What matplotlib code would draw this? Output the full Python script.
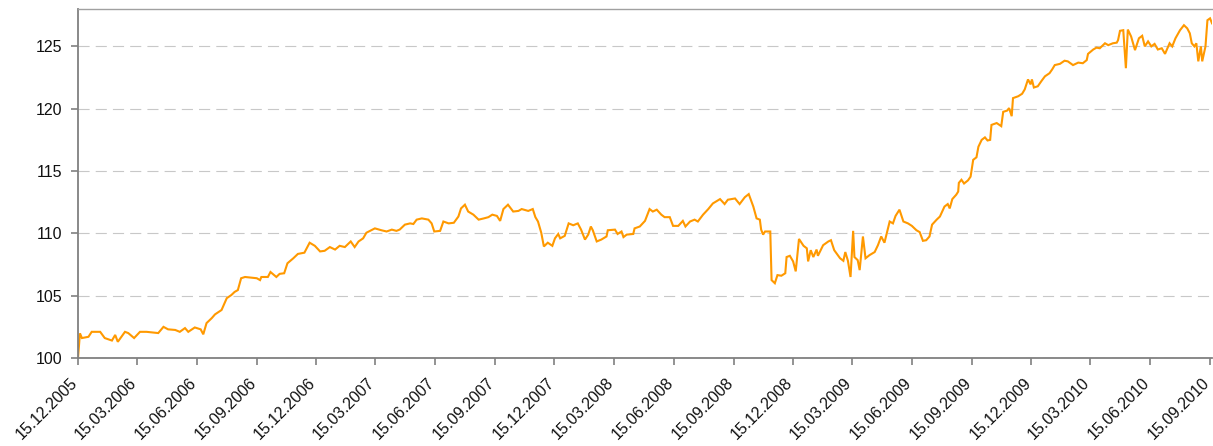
import numpy as np
import pandas as pd
import matplotlib
matplotlib.use("Agg")
import matplotlib.pyplot as plt
import matplotlib.dates as mdates
import matplotlib.transforms as mtransforms

plt.rcParams['font.family'] = ['Liberation Sans', 'DejaVu Sans']

# index level (start = 100)
dates = [
    "2005-12-15", "2005-12-18", "2005-12-21", "2005-12-31", "2006-01-05", "2006-01-18",
    "2006-01-25", "2006-02-05", "2006-02-10", "2006-02-14", "2006-02-25", "2006-03-02",
    "2006-03-11", "2006-03-20", "2006-03-30", "2006-04-17", "2006-04-25", "2006-05-02",
    "2006-05-13", "2006-05-20", "2006-05-28", "2006-06-02", "2006-06-12", "2006-06-21",
    "2006-06-25", "2006-06-30", "2006-07-08", "2006-07-13", "2006-07-23", "2006-07-31",
    "2006-08-07", "2006-08-12", "2006-08-17", "2006-08-22", "2006-08-28", "2006-09-15",
    "2006-09-20", "2006-09-22", "2006-10-02", "2006-10-06", "2006-10-15", "2006-10-20",
    "2006-10-27", "2006-11-01", "2006-11-10", "2006-11-17", "2006-11-27", "2006-12-05",
    "2006-12-13", "2006-12-21", "2006-12-28", "2007-01-05", "2007-01-13", "2007-01-20",
    "2007-01-28", "2007-02-06", "2007-02-12", "2007-02-18", "2007-02-25", "2007-03-02",
    "2007-03-15", "2007-03-25", "2007-04-02", "2007-04-10", "2007-04-17", "2007-04-22",
    "2007-04-30", "2007-05-08", "2007-05-13", "2007-05-18", "2007-05-26", "2007-06-05",
    "2007-06-10", "2007-06-14", "2007-06-23", "2007-06-28", "2007-07-06", "2007-07-14",
    "2007-07-21", "2007-07-25", "2007-07-31", "2007-08-05", "2007-08-13", "2007-08-21",
    "2007-08-29", "2007-09-05", "2007-09-11", "2007-09-18", "2007-09-23", "2007-09-28",
    "2007-10-05", "2007-10-13", "2007-10-21", "2007-10-26", "2007-11-05", "2007-11-12",
    "2007-11-16", "2007-11-20", "2007-11-25", "2007-11-29", "2007-12-05", "2007-12-12",
    "2007-12-16", "2007-12-21", "2007-12-24", "2007-12-31", "2008-01-06", "2008-01-13",
    "2008-01-20", "2008-01-25", "2008-01-31", "2008-02-05", "2008-02-09", "2008-02-12",
    "2008-02-18", "2008-02-25", "2008-03-04", "2008-03-06", "2008-03-17", "2008-03-21",
    "2008-03-27", "2008-03-30", "2008-04-04", "2008-04-14", "2008-04-16", "2008-04-24",
    "2008-05-02", "2008-05-09", "2008-05-14", "2008-05-20", "2008-05-27", "2008-06-01",
    "2008-06-09", "2008-06-14", "2008-06-22", "2008-06-29", "2008-07-03", "2008-07-10",
    "2008-07-17", "2008-07-22", "2008-07-30", "2008-08-07", "2008-08-14", "2008-08-25",
    "2008-09-01", "2008-09-06", "2008-09-17", "2008-09-24", "2008-10-02", "2008-10-08",
    "2008-10-15", "2008-10-20", "2008-10-25", "2008-10-27", "2008-10-30", "2008-11-02",
    "2008-11-10", "2008-11-12", "2008-11-17", "2008-11-21", "2008-11-27", "2008-12-03",
    "2008-12-05", "2008-12-10", "2008-12-15", "2008-12-19", "2008-12-24", "2008-12-31",
    "2009-01-05", "2009-01-07", "2009-01-11", "2009-01-15", "2009-01-20", "2009-01-22",
    "2009-01-30", "2009-02-07", "2009-02-11", "2009-02-16", "2009-02-25", "2009-03-02",
    "2009-03-05", "2009-03-09", "2009-03-13", "2009-03-17", "2009-03-19", "2009-03-24",
    "2009-03-27", "2009-04-01", "2009-04-05", "2009-04-11", "2009-04-19", "2009-04-24",
    "2009-04-29", "2009-05-04", "2009-05-12", "2009-05-17", "2009-05-21", "2009-05-27",
    "2009-06-02", "2009-06-09", "2009-06-15", "2009-06-22", "2009-06-27", "2009-07-02",
    "2009-07-07", "2009-07-12", "2009-07-16", "2009-07-23", "2009-07-28", "2009-08-04",
    "2009-08-09", "2009-08-12", "2009-08-16", "2009-08-22", "2009-08-25", "2009-08-26",
    "2009-08-30", "2009-09-03", "2009-09-09", "2009-09-13", "2009-09-17", "2009-09-22",
    "2009-09-25", "2009-09-30", "2009-10-05", "2009-10-09", "2009-10-13", "2009-10-15",
    "2009-10-23", "2009-10-30", "2009-11-02", "2009-11-08", "2009-11-11", "2009-11-15",
    "2009-11-17", "2009-11-25", "2009-12-01", "2009-12-05", "2009-12-10", "2009-12-14",
    "2009-12-16", "2009-12-19", "2009-12-25", "2009-12-31", "2010-01-05", "2010-01-12",
    "2010-01-16", "2010-01-20", "2010-01-28", "2010-02-04", "2010-02-09", "2010-02-17",
    "2010-02-25", "2010-03-04", "2010-03-10", "2010-03-12", "2010-03-20", "2010-03-25",
    "2010-03-30", "2010-04-07", "2010-04-12", "2010-04-19", "2010-04-25", "2010-04-27",
    "2010-04-30", "2010-05-05", "2010-05-09", "2010-05-12", "2010-05-17", "2010-05-23",
    "2010-05-29", "2010-06-03", "2010-06-07", "2010-06-12", "2010-06-17", "2010-06-22",
    "2010-06-27", "2010-07-03", "2010-07-08", "2010-07-15", "2010-07-19", "2010-07-24",
    "2010-07-31", "2010-08-06", "2010-08-11", "2010-08-15", "2010-08-18", "2010-08-22",
    "2010-08-25", "2010-08-28", "2010-09-01", "2010-09-03", "2010-09-08", "2010-09-11",
    "2010-09-15", "2010-09-18",
]
values = [
    100.0, 101.98, 101.6, 101.7, 102.1, 102.1,
    101.6, 101.4, 101.85, 101.3, 102.1, 102.0,
    101.6, 102.1, 102.1, 102.0, 102.5, 102.3,
    102.25, 102.1, 102.4, 102.1, 102.45, 102.3,
    101.9, 102.8, 103.2, 103.5, 103.85, 104.8,
    105.05, 105.3, 105.45, 106.4, 106.5, 106.4,
    106.25, 106.5, 106.5, 106.9, 106.5, 106.75,
    106.8, 107.6, 108.0, 108.35, 108.45, 109.25,
    109.0, 108.55, 108.6, 108.9, 108.7, 109.0,
    108.9, 109.35, 108.9, 109.35, 109.6, 110.05,
    110.4, 110.25, 110.15, 110.3, 110.2, 110.3,
    110.7, 110.8, 110.75, 111.1, 111.2, 111.1,
    110.8, 110.15, 110.2, 110.95, 110.8, 110.85,
    111.35, 112.0, 112.3, 111.75, 111.5, 111.1,
    111.2, 111.3, 111.5, 111.4, 111.0, 111.95,
    112.3, 111.75, 111.8, 111.95, 111.8, 111.95,
    111.3, 110.95, 110.05, 108.95, 109.25, 109.0,
    109.6, 109.95, 109.6, 109.8, 110.8, 110.65,
    110.8, 110.3, 109.5, 109.9, 110.55, 110.25,
    109.35, 109.5, 109.75, 110.25, 110.3, 109.95,
    110.15, 109.7, 109.9, 109.95, 110.4, 110.55,
    111.0, 111.95, 111.75, 111.9, 111.5, 111.3,
    111.3, 110.6, 110.6, 111.0, 110.55, 110.95,
    111.1, 110.95, 111.5, 111.95, 112.4, 112.75,
    112.35, 112.7, 112.8, 112.35, 112.9, 113.15,
    112.15, 111.2, 111.1, 110.3, 109.9, 110.15,
    110.15, 106.25, 106.0, 106.65, 106.6, 106.8,
    108.1, 108.2, 107.75, 106.95, 109.55, 109.0,
    108.8, 107.75, 108.65, 108.1, 108.7, 108.2,
    109.05, 109.35, 109.45, 108.65, 108.0, 107.8,
    108.5, 107.8, 106.5, 110.2, 108.1, 107.85,
    107.05, 109.75, 108.0, 108.25, 108.5, 109.05,
    109.75, 109.25, 110.95, 110.8, 111.4, 111.9,
    110.95, 110.8, 110.6, 110.25, 110.1, 109.4,
    109.45, 109.75, 110.7, 111.1, 111.35, 112.15,
    112.35, 112.0, 112.75, 113.1, 113.35, 114.05,
    114.3, 114.0, 114.25, 114.55, 115.9, 116.1,
    116.95, 117.5, 117.7, 117.45, 117.5, 118.7,
    118.85, 118.6, 119.75, 119.85, 120.05, 119.4,
    120.85, 121.0, 121.2, 121.55, 122.35, 121.95,
    122.35, 121.7, 121.8, 122.25, 122.6, 122.85,
    123.15, 123.5, 123.6, 123.85, 123.8, 123.5,
    123.7, 123.65, 123.9, 124.4, 124.75, 124.9,
    124.85, 125.25, 125.1, 125.25, 125.3, 125.5,
    126.25, 126.3, 123.25, 126.35, 125.8, 124.7,
    125.65, 125.85, 125.0, 125.4, 125.0, 125.2,
    124.75, 124.85, 124.4, 125.25, 125.0, 125.65,
    126.3, 126.7, 126.45, 126.05, 125.25, 125.0,
    125.25, 123.8, 125.0, 123.8, 125.0, 127.1,
    127.25, 126.85,
]

tick_dates = ["2005-12-15", "2006-03-15", "2006-06-15", "2006-09-15", "2006-12-15",
              "2007-03-15", "2007-06-15", "2007-09-15", "2007-12-15", "2008-03-15",
              "2008-06-15", "2008-09-15", "2008-12-15", "2009-03-15", "2009-06-15",
              "2009-09-15", "2009-12-15", "2010-03-15", "2010-06-15", "2010-09-15"]
y_ticks = [100, 105, 110, 115, 120, 125]

x = pd.to_datetime(dates)
ticks = pd.to_datetime(tick_dates)

fig = plt.figure(figsize=(12.13, 4.46), dpi=100)
ax = fig.add_axes([78 / 1213, 88 / 446, 1134 / 1213, 349 / 446])

ax.plot(x, values, color="#ff9900", linewidth=1.5, solid_joinstyle="miter")

ax.set_xlim(x[0], x[-1])
ax.set_ylim(100, 128)
ax.set_yticks(y_ticks)
ax.set_xticks(ticks)
ax.xaxis.set_major_formatter(mdates.DateFormatter("%d.%m.%Y"))

ax.yaxis.grid(True, color="#c8c8c8", linewidth=0.8, linestyle=(0, (10, 5.5)))
ax.set_axisbelow(True)

for s in ["left", "bottom"]:
    ax.spines[s].set_color("#808080")
    ax.spines[s].set_linewidth(1.3)
ax.spines["top"].set_color("#a0a0a0")
ax.spines["top"].set_linewidth(1.0)
ax.spines["right"].set_visible(False)

ax.tick_params(axis="both", colors="#808080", labelcolor="#111111",
               length=5, width=1.2, labelsize=11.5)
ax.tick_params(axis="y", pad=6)

# push the slanted date labels a bit left and down
shift = mtransforms.ScaledTranslation(-8 / 100, -5 / 100, fig.dpi_scale_trans)
for lab in ax.get_xticklabels():
    lab.set_rotation(45)
    lab.set_ha("right")
    lab.set_va("top")
    lab.set_rotation_mode("anchor")
    lab.set_transform(lab.get_transform() + shift)

plt.savefig("out.png", dpi=100)
plt.close()
